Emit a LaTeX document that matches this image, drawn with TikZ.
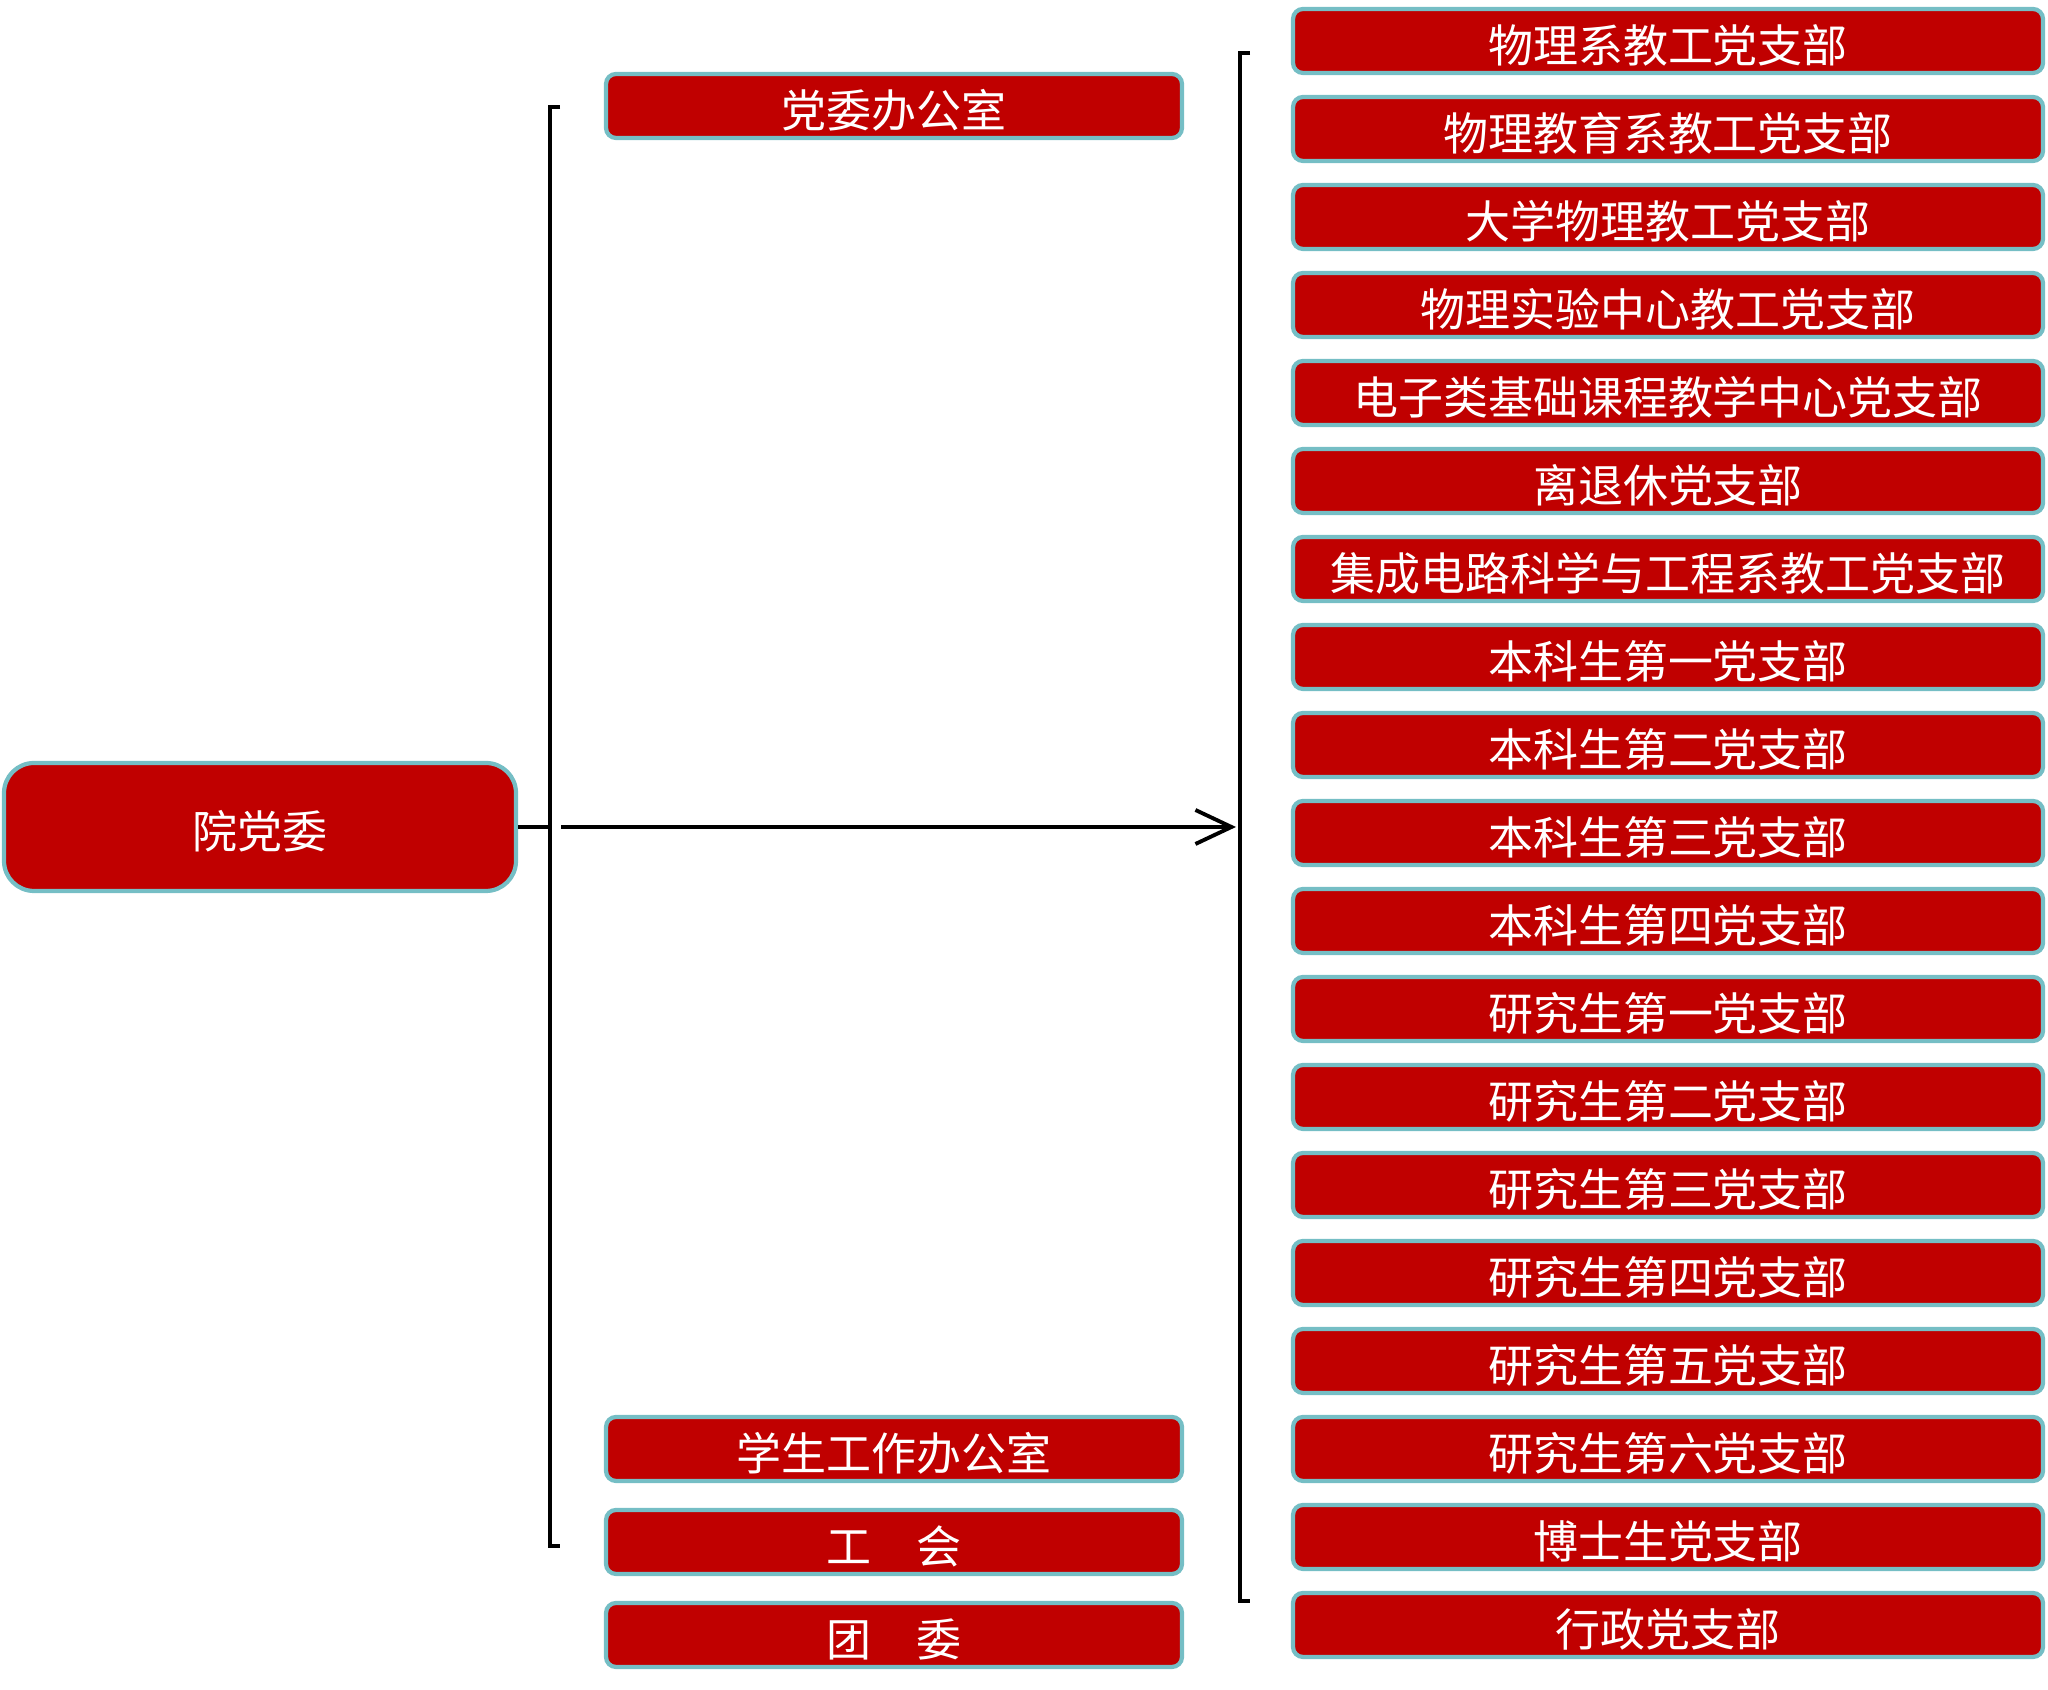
\documentclass[tikz,border=0pt]{standalone}
\usepackage{fontspec}
\usepackage{tikz}
\usetikzlibrary{arrows.meta}
\newfontfamily\cjk{Noto Sans CJK SC}
\definecolor{boxred}{RGB}{192,0,0}
\definecolor{boxrim}{RGB}{117,190,197}
\tikzset{
  box/.style={draw=boxrim,fill=boxred,text=white,line width=1.2pt,inner sep=0pt,
    rounded corners=0.1cm,text height=0.45cm,text depth=0.024cm,
    font=\cjk\fontsize{12.8pt}{15pt}\selectfont},
  midbox/.style={box,minimum width=5.76cm,minimum height=0.64cm},
  rightbox/.style={box,minimum width=7.5cm,minimum height=0.64cm}
}
\begin{document}
\begin{tikzpicture}
\useasboundingbox (0,0) rectangle (20.48,-16.90);
\node[box,minimum width=5.12cm,minimum height=1.28cm,rounded corners=0.3cm] (W) at (2.60,-8.27) {院党委};

\node[midbox] (O1) at (8.94,-1.06) {党委办公室};
\node[midbox] (O2) at (8.94,-14.49) {学生工作办公室};
\node[midbox] (O3) at (8.94,-15.42) {工　会};
\node[midbox] (O4) at (8.94,-16.35) {团　委};

\node[rightbox] (Z1) at (16.68,-0.41) {物理系教工党支部};
\node[rightbox] (Z2) at (16.68,-1.29) {物理教育系教工党支部};
\node[rightbox] (Z3) at (16.68,-2.17) {大学物理教工党支部};
\node[rightbox] (Z4) at (16.68,-3.05) {物理实验中心教工党支部};
\node[rightbox] (Z5) at (16.68,-3.93) {电子类基础课程教学中心党支部};
\node[rightbox] (Z6) at (16.68,-4.81) {离退休党支部};
\node[rightbox] (Z7) at (16.68,-5.69) {集成电路科学与工程系教工党支部};
\node[rightbox] (Z8) at (16.68,-6.57) {本科生第一党支部};
\node[rightbox] (Z9) at (16.68,-7.45) {本科生第二党支部};
\node[rightbox] (Z10) at (16.68,-8.33) {本科生第三党支部};
\node[rightbox] (Z11) at (16.68,-9.21) {本科生第四党支部};
\node[rightbox] (Z12) at (16.68,-10.09) {研究生第一党支部};
\node[rightbox] (Z13) at (16.68,-10.97) {研究生第二党支部};
\node[rightbox] (Z14) at (16.68,-11.85) {研究生第三党支部};
\node[rightbox] (Z15) at (16.68,-12.73) {研究生第四党支部};
\node[rightbox] (Z16) at (16.68,-13.61) {研究生第五党支部};
\node[rightbox] (Z17) at (16.68,-14.49) {研究生第六党支部};
\node[rightbox] (Z18) at (16.68,-15.37) {博士生党支部};
\node[rightbox] (Z19) at (16.68,-16.25) {行政党支部};

% brackets
\coordinate (L1) at (5.50,-1.07);
\coordinate (L2) at (5.50,-15.46);
\coordinate (LM) at (5.50,-8.27);
\coordinate (LA) at (5.61,-8.27);
\coordinate (R1) at (12.40,-0.53);
\coordinate (R2) at (12.40,-16.01);
\coordinate (RM) at (12.36,-8.27);
\draw[black,line width=1.1pt] ([xshift=0.1cm]L1) -- (L1) -- (L2) -- ([xshift=0.1cm]L2);
\draw[black,line width=1.1pt] ([xshift=0.1cm]R1) -- (R1) -- (R2) -- ([xshift=0.1cm]R2);
\draw[black,line width=1.1pt] (W.east) -- (LM);
\draw[black,line width=1.1pt,-{Straight Barb[length=0.36cm,width=0.34cm]}] (LA) -- (RM);

\end{tikzpicture}
\end{document}
